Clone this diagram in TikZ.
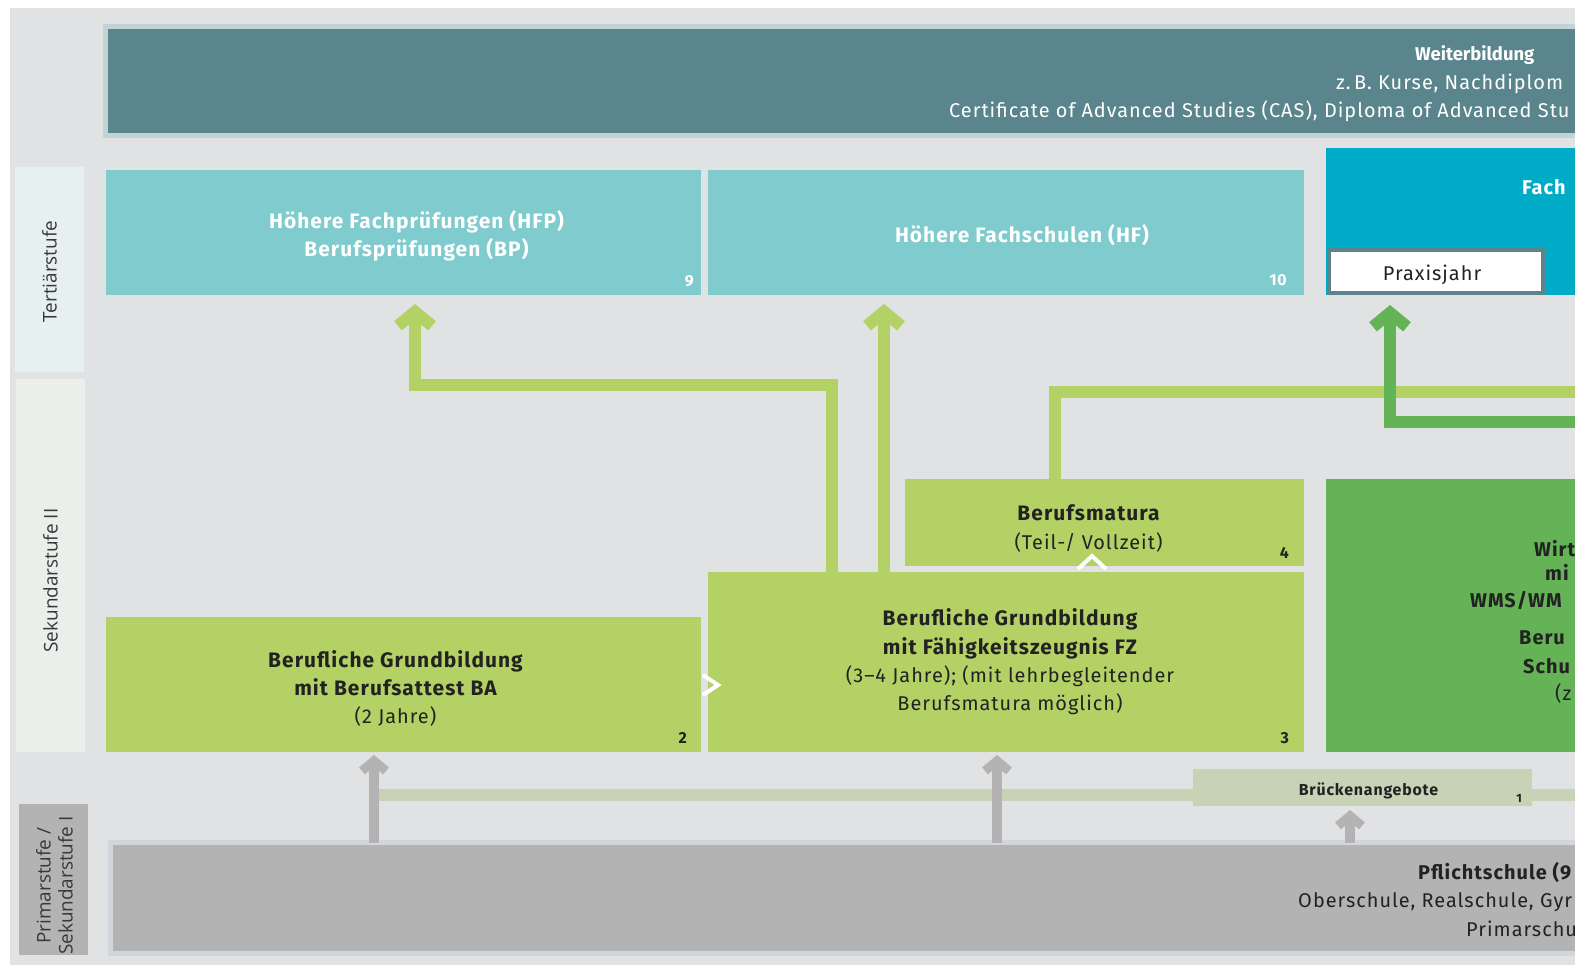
\documentclass[tikz,border=0pt]{standalone}
\usepackage{fontspec}
\setmainfont{Fira Sans}[LetterSpace=5]
\newfontfamily\plainfont{Fira Sans}
\newfontfamily\sidefont{Open Sans}
\usetikzlibrary{arrows.meta,positioning}

\definecolor{bggray}{HTML}{E1E2E4}
\definecolor{wbteal}{HTML}{5A858D}
\definecolor{wbborder}{HTML}{C3D2D5}
\definecolor{hfteal}{HTML}{80CBCD}
\definecolor{fhblue}{HTML}{00ABC8}
\definecolor{lime}{HTML}{B3D164}
\definecolor{wmsgreen}{HTML}{64B457}
\definecolor{psgray}{HTML}{B3B3B3}
\definecolor{psborder}{HTML}{D0D6DB}
\definecolor{bridge}{HTML}{C8D2B4}
\definecolor{tertlabel}{HTML}{E7F0F0}
\definecolor{seklabel}{HTML}{EBEFEB}
\definecolor{ink}{HTML}{222222}

\newcommand{\reg}{\fontsize{20}{28.5}\selectfont}
\newcommand{\bld}{\bfseries\fontsize{21}{28}\selectfont}

\tikzset{
  box/.style={anchor=north west, inner sep=0pt, outer sep=0pt},
  boxtext/.style={inner sep=0pt, align=center, font=\reg},
  sidebox/.style={inner sep=0pt, outer sep=0pt},
  sidetext/.style={inner sep=0pt, rotate=90, align=center, text=ink!90,
    font=\sidefont\fontsize{19}{22}\selectfont},
  nr/.style={anchor=south east, inner sep=0pt, font=\bfseries\fontsize{16}{16}\selectfont},
  cut/.style={anchor=base west, inner sep=0pt, font=\reg},
  cutbold/.style={cut, font=\bfseries\fontsize{20}{28}\selectfont},
  limearrow/.style={draw=lime, line width=12bp,
    -{Straight Barb[length=14bp, width=34bp, line width=12bp, sharp]}},
  greenarrow/.style={limearrow, draw=wmsgreen},
  limeline/.style={draw=lime, line width=12bp},
  bridgeline/.style={draw=bridge, line width=12bp},
  grayarrow/.style={draw=psgray, line width=10bp,
    -{Straight Barb[length=10bp, width=24bp, line width=9bp, sharp]}},
  chev/.style={draw=white, line width=4bp, line join=miter}
}

\begin{document}
\begin{tikzpicture}[x=1bp, y=-1bp]
  \useasboundingbox (0,0) rectangle (1575,971);
  \clip (0,0) rectangle (1575,971);
  \fill[bggray] (10,8) rectangle (1600,965);

  % Stufen
  \node[sidebox, fill=tertlabel, minimum width=69bp, minimum height=205bp] (tert) at (49.5,269.5) {};
  \node[sidetext] (terttext) at ([yshift=-2bp]tert.center) {Tertiärstufe};
  \node[sidebox, fill=seklabel, minimum width=69bp, minimum height=373bp] (sek) at (50.5,565.5) {};
  \node[sidetext] (sektext) at ([yshift=-15bp]sek.center) {Sekundarstufe II};
  \node[sidebox, fill=psgray, minimum width=69bp, minimum height=151bp] (prim) at (53.5,879.5) {};
  \node[sidetext] (primtext) at ([xshift=1bp, yshift=-6bp]prim.center) {Primarstufe /\\Sekundarstufe I};

  % Weiterbildung
  \node[box, fill=wbteal, draw=wbborder, line width=5bp, minimum width=1490bp, minimum height=108.5bp] (wb) at (105.5,26.5) {};
  \node[cut, text=white, font=\plainfont\bfseries\fontsize{18.5}{28}\selectfont] (wbtitle) at (1415,60) {Weiterbildung};
  \node[cut, text=white] (wbline1) at (1336,89) {z.\,B. Kurse, Nachdiplom};
  \node[cut, text=white] (wbline2) at (949,117) {Certificate of Advanced Studies (CAS), Diploma of Advanced Stu};

  % Tertiaerstufe
  \node[box, fill=hfteal, minimum width=595bp, minimum height=125bp] (hfp) at (106,170) {};
  \node[boxtext, text=white, font=\bld] (hfptext) at ([xshift=13bp, yshift=-3bp]hfp.center) {Höhere Fachprüfungen (HFP)\\Berufsprüfungen (BP)};
  \node[nr, text=white] at ([xshift=-7bp, yshift=8bp]hfp.south east) {9};
  \node[box, fill=hfteal, minimum width=596bp, minimum height=125bp] (hf) at (708,170) {};
  \node[boxtext, text=white, font=\bld] (hftext) at ([xshift=16bp, yshift=-3bp]hf.center) {Höhere Fachschulen (HF)};
  \node[nr, text=white] at ([xshift=-17bp, yshift=9bp]hf.south east) {10};
  \node[box, fill=fhblue, minimum width=260bp, minimum height=147bp] (fh) at (1326,148) {};
  \node[cutbold, text=white] (fhtitle) at (1522,194) {Fach};
  \node[box, fill=white, draw=wbteal, line width=4bp, minimum width=214bp, minimum height=43bp] (praxis) at (1329,250) {};
  \node[boxtext, text=ink] (praxistext) at ([xshift=-4bp, yshift=-3bp]praxis.center) {Praxisjahr};

  % Sekundarstufe II
  \node[box, fill=lime, minimum width=399bp, minimum height=87bp] (bm) at (905,479) {};
  \node[boxtext, text=ink] (bmtext) at ([xshift=-16bp, yshift=-6bp]bm.center) {{\bld Berufsmatura}\\(Teil-/ Vollzeit)};
  \node[nr, text=ink] at ([xshift=-15bp, yshift=7bp]bm.south east) {4};
  \node[box, fill=lime, minimum width=596bp, minimum height=180bp] (fz) at (708,572) {};
  \node[boxtext, text=ink] (fztext) at ([xshift=4bp]fz.center) {{\bld Berufliche Grundbildung}\\{\bld mit Fähigkeitszeugnis FZ}\\(3--4 Jahre); (mit lehrbegleitender\\Berufsmatura möglich)};
  \node[nr, text=ink] at ([xshift=-15bp, yshift=8bp]fz.south east) {3};
  \node[box, fill=lime, minimum width=595bp, minimum height=135bp] (ba) at (106,617) {};
  \node[boxtext, text=ink] (batext) at ([xshift=-8bp, yshift=-4bp]ba.center) {{\bld Berufliche Grundbildung}\\{\bld mit Berufsattest BA}\\(2 Jahre)};
  \node[nr, text=ink] at ([xshift=-14bp, yshift=8bp]ba.south east) {2};
  \node[box, fill=wmsgreen, minimum width=260bp, minimum height=273bp] (wms) at (1326,479) {};
  \node[cutbold, text=ink] (wms1) at (1534,556) {Wirtsc};
  \node[cutbold, text=ink] (wms2) at (1545,580) {mi};
  \node[cutbold, text=ink] (wms3) at (1470,607) {WMS/WM};
  \node[cutbold, text=ink] (wms4) at (1519,644) {Beru};
  \node[cutbold, text=ink] (wms5) at (1523,673) {Schu};
  \node[cut, text=ink] (wms6) at (1555,700) {(z};

  % Durchlaessigkeit
  \draw[chev] ([xshift=-5bp, yshift=-13bp]fz.west) -- ++(15,10) -- ++(-15,10);
  \draw[chev] ([xshift=72bp, yshift=3bp]fz.north) -- ++(14,-13) -- ++(14,13);

  % Pfeile nach oben
  \draw[limearrow] ([xshift=-174bp]fz.north) -- ++(0,-187) -| ([xshift=11.5bp, yshift=-9bp]hfp.south);
  \draw[limearrow] ([xshift=-122bp]fz.north) -- ([xshift=-122bp, yshift=-9bp]hf.south);
  \coordinate (fhin) at (1600,392);
  \draw[limeline] ([xshift=-50bp]bm.north) |- (fhin);
  \coordinate (wmsout) at (1600,422);
  \draw[greenarrow] (wmsout) -| ([xshift=-46bp, yshift=-12bp]praxis.south);

  % Brueckenangebote
  \coordinate (bandstart) at (374,795);
  \coordinate (bandend) at (1600,795);
  \draw[bridgeline] (bandstart) -- (bandend);
  \node[box, fill=bridge, minimum width=339bp, minimum height=37bp] (bruecke) at (1193,769) {};
  \node[boxtext, text=ink, font=\bfseries\fontsize{16}{16}\selectfont] (bruecketext) at ([xshift=6bp, yshift=-3bp]bruecke.center) {Brückenangebote};
  \node[nr, text=ink, font=\bfseries\fontsize{12}{12}\selectfont] at ([xshift=-10bp, yshift=3bp]bruecke.south east) {1};

  % Pflichtschule
  \node[box, fill=psgray, draw=psborder, line width=5bp, minimum width=1490bp, minimum height=110.5bp] (ps) at (110.5,842.5) {};
  \node[cutbold, text=ink] (ps1) at (1418,879) {Pflichtschule (9};
  \node[cut, text=ink] (ps2) at (1298,907) {Oberschule, Realschule, Gyr};
  \node[cut, text=ink] (ps3) at (1466,936) {Primarschu};

  \draw[grayarrow] ([xshift=-29.5bp]ba.south |- ps.north) -- ([xshift=-29.5bp, yshift=-3bp]ba.south);
  \draw[grayarrow] ([xshift=-9bp]fz.south |- ps.north) -- ([xshift=-9bp, yshift=-3bp]fz.south);
  \draw[grayarrow] ([xshift=-12.5bp]bruecke.south |- ps.north) -- ([xshift=-12.5bp, yshift=-4bp]bruecke.south);
\end{tikzpicture}
\end{document}
